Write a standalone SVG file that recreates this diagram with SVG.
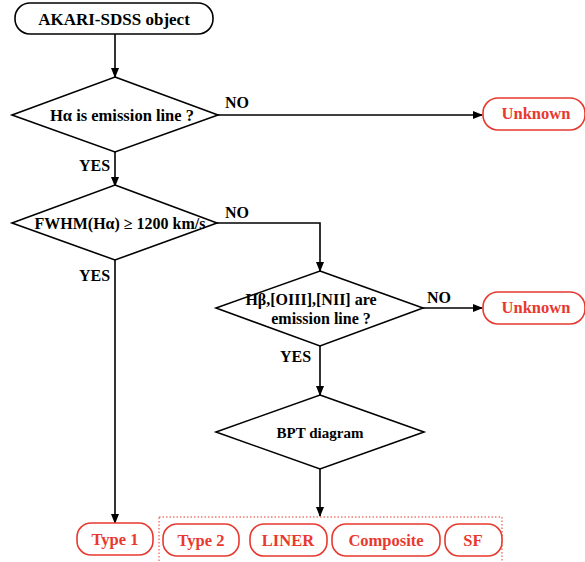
<svg xmlns="http://www.w3.org/2000/svg" width="585" height="562" viewBox="0 0 585 562">
<defs>
<marker id="ah" markerWidth="10" markerHeight="8" refX="9" refY="4" orient="auto" markerUnits="userSpaceOnUse">
<path d="M0,0 L10,4 L0,8 Z" fill="#000"/>
</marker>
<style>
text{font-family:"Liberation Serif","Times New Roman",serif;font-weight:bold;text-anchor:middle;}
.d{fill:#000;}
.lb{font-size:16px;fill:#000;text-anchor:start;}
.r{font-size:16.5px;fill:#e8392f;}
.box{fill:#fff;stroke:#000;stroke-width:1.6;}
.rbox{fill:#fff;stroke:#e8392f;stroke-width:1.6;}
.dia{fill:#fff;stroke:#000;stroke-width:1.6;}
.c{fill:none;stroke:#000;stroke-width:1.6;marker-end:url(#ah);}
</style>
</defs>
<rect width="585" height="562" fill="#fff"/>
<g id="connectors">
<path class="c" d="M115,34 V77"/>
<path class="c" d="M218,115 H482"/>
<path class="c" d="M115,152 V186"/>
<path class="c" d="M217,223 H320 V271"/>
<path class="c" d="M423,308 H482"/>
<path class="c" d="M320,346 V395"/>
<path class="c" d="M320,469 V516"/>
<path class="c" d="M115,260 V523"/>
<text class="lb" x="225" y="108">NO</text>
<text class="lb" x="79" y="171">YES</text>
<text class="lb" x="225" y="218">NO</text>
<text class="lb" x="79" y="281">YES</text>
<text class="lb" x="427" y="303">NO</text>
<text class="lb" x="280" y="362">YES</text>
</g>
<g id="start">
<rect class="box" x="15" y="3" width="198" height="31" rx="15"/>
<text x="114" y="25" style="font-size:17px">AKARI-SDSS object</text>
</g>
<g id="q1">
<polygon class="dia" points="115,77 218,115 115,152 12,115"/>
<text class="d" x="122" y="121" style="font-size:16.5px">Hα is emission line ?</text>
</g>
<g id="unknown1">
<rect class="rbox" x="483" y="98" width="102" height="32" rx="15"/>
<text class="r" x="536" y="119">Unknown</text>
</g>
<g id="q2">
<polygon class="dia" points="115,185 217,223 115,260 12,223"/>
<text class="d" x="120" y="229" style="font-size:16px">FWHM(Hα) ≥ 1200 km/s</text>
</g>
<g id="q3">
<polygon class="dia" points="320,271 423,308 320,346 216,308"/>
<text class="d" x="311" y="305" style="font-size:16px">Hβ,[OIII],[NII] are</text>
<text class="d" x="321" y="324" style="font-size:16px">emission line ?</text>
</g>
<g id="unknown2">
<rect class="rbox" x="483" y="292" width="102" height="32" rx="15"/>
<text class="r" x="536" y="313">Unknown</text>
</g>
<g id="bpt">
<polygon class="dia" points="320,395 424,432 320,469 216,432"/>
<text class="d" x="320" y="438" style="font-size:15px">BPT diagram</text>
</g>
<g id="group">
<rect x="159" y="517" width="343" height="50" fill="none" stroke="#e8392f" stroke-width="1" stroke-dasharray="1.5,2"/>
</g>
<g id="type1">
<rect class="rbox" x="77" y="523" width="76" height="32" rx="14"/>
<text class="r" x="115" y="545">Type 1</text>
</g>
<g id="type2">
<rect class="rbox" x="163" y="524" width="76" height="32" rx="14"/>
<text class="r" x="201" y="546">Type 2</text>
</g>
<g id="liner">
<rect class="rbox" x="250" y="524" width="77" height="32" rx="14"/>
<text class="r" x="288" y="546">LINER</text>
</g>
<g id="composite">
<rect class="rbox" x="332" y="524" width="108" height="32" rx="14"/>
<text class="r" x="386" y="546">Composite</text>
</g>
<g id="sf">
<rect class="rbox" x="445" y="524" width="57" height="32" rx="14"/>
<text class="r" x="473" y="546">SF</text>
</g>
</svg>
